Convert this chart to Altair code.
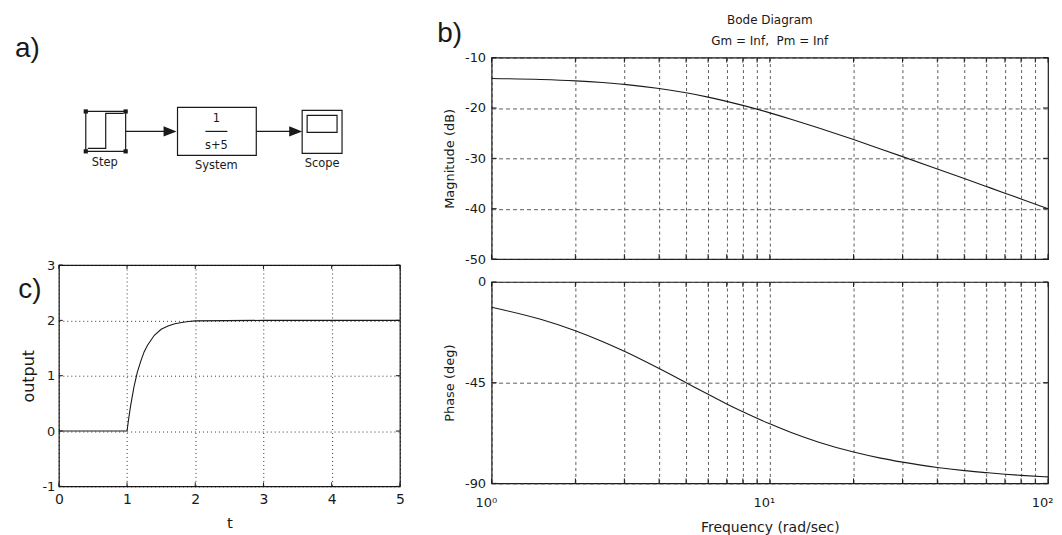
import altair as alt
import pandas as pd

# ---------------- data ----------------
# c) step response of 10/(s+5) started at t = 1
t_vals = [0.0, 1.0, 1.02, 1.05, 1.1, 1.15, 1.2, 1.25, 1.3, 1.4, 1.5, 1.6, 1.7, 1.8, 1.9, 2.0, 3.0, 4.0, 5.0]
out_vals = [0.0, 0.0, 0.19, 0.44, 0.79, 1.06, 1.26, 1.43, 1.55, 1.73, 1.84, 1.90, 1.94, 1.96, 1.98, 1.99, 2.0, 2.0, 2.0]

# b) Bode diagram
freq = [1, 1.5, 2, 2.5, 3, 4, 5, 6, 7, 8, 10, 12, 15, 20, 25, 30, 40, 50, 60, 70, 80, 100]
mag_db = [-14.15, -14.35, -14.62, -14.95, -15.31, -16.13, -16.99, -17.85, -18.69, -19.49, -20.97,
          -22.28, -23.98, -26.28, -28.13, -29.66, -32.11, -34.02, -35.59, -36.92, -38.08, -40.01]
phase_deg = [-11.3, -16.7, -21.8, -26.6, -31.0, -38.7, -45.0, -50.2, -54.5, -58.0, -63.4,
             -67.4, -71.6, -76.0, -78.7, -80.5, -82.9, -84.3, -85.2, -85.9, -86.4, -87.1]
grid_freqs = [1, 2, 3, 4, 5, 6, 7, 8, 9, 10, 20, 30, 40, 50, 60, 70, 80, 90, 100]
mag_ticks = [-50, -40, -30, -20, -10]
phase_ticks = [-90, -45, 0]
t_ticks = [0, 1, 2, 3, 4, 5]
out_ticks = [-1, 0, 1, 2, 3]
bode_title = ["Bode Diagram", "Gm = Inf,\u00a0 Pm = Inf"]

# a) block diagram (drawing coordinates of the Simulink sketch)
box_x1 = [87, 179, 304, 309]
box_x2 = [127, 258, 344, 339]
box_y1 = [111, 107, 110, 115]
box_y2 = [151, 155, 153, 132]
handle_x = [87, 127, 87, 127]
handle_y = [111, 111, 151, 151]
stepsym_x = [89, 107, 107, 125]
stepsym_y = [148, 148, 113, 113]
wire_x1 = [127, 258, 207]
wire_x2 = [167, 292, 229]
wire_y = [131, 131, 131]
head_x = [171.5, 297.5]
head_y = [131, 131]
block_text = ["1", "s+5", "Step", "System", "Scope"]
block_text_x = [218, 218, 106, 218, 324]
block_text_y = [119, 146, 163, 166, 164]
panel_labels = ["a)", "b)", "c)"]

FONT = "DejaVu Sans"
LBL_FONT = "Liberation Sans"
INK = "#1a1a1a"


def inner_ticks(values, field, enc, w, h, n=4, horizontal=True):
    """MATLAB-style short ticks drawn inside the frame on both sides (same field/axis as the data layer)."""
    base = alt.Chart(pd.DataFrame({field: values})).mark_rule(color=INK, strokeWidth=1)
    if horizontal:
        return [base.encode(x=enc, y=alt.value(h), y2=alt.value(h - n)),
                base.encode(x=enc, y=alt.value(0), y2=alt.value(n))]
    return [base.encode(y=enc, x=alt.value(0), x2=alt.value(n)),
            base.encode(y=enc, x=alt.value(w), x2=alt.value(w - n))]


# ---------------- a) block diagram ----------------
bx = alt.Scale(domain=[60, 402], nice=False, zero=False)
by = alt.Scale(domain=[200, 57], nice=False, zero=False)

boxes = alt.Chart(pd.DataFrame({"x1": box_x1, "x2": box_x2, "y1": box_y1, "y2": box_y2})).mark_rect(
    fill="white", stroke=INK, strokeWidth=1.2
).encode(
    x=alt.X("x1:Q", scale=bx, axis=None), x2="x2:Q",
    y=alt.Y("y1:Q", scale=by, axis=None), y2="y2:Q",
)
handles = alt.Chart(pd.DataFrame({"x": handle_x, "y": handle_y})).mark_square(
    size=18, filled=True, color=INK, opacity=1
).encode(x=alt.X("x:Q", scale=bx, axis=None), y=alt.Y("y:Q", scale=by, axis=None))
stepsym = alt.Chart(pd.DataFrame({"x": stepsym_x, "y": stepsym_y, "o": list(range(len(stepsym_x)))})).mark_line(
    color=INK, strokeWidth=1.2
).encode(x=alt.X("x:Q", scale=bx, axis=None), y=alt.Y("y:Q", scale=by, axis=None), order="o:Q")
wires = alt.Chart(pd.DataFrame({"x1": wire_x1, "x2": wire_x2, "y": wire_y})).mark_rule(
    color=INK, strokeWidth=1.2
).encode(x=alt.X("x1:Q", scale=bx, axis=None), x2="x2:Q", y=alt.Y("y:Q", scale=by, axis=None))
heads = alt.Chart(pd.DataFrame({"x": head_x, "y": head_y})).mark_point(
    shape="M-1,-0.8L1,0L-1,0.8Z", size=169, filled=True, color=INK, opacity=1
).encode(x=alt.X("x:Q", scale=bx, axis=None), y=alt.Y("y:Q", scale=by, axis=None))
btext = alt.Chart(pd.DataFrame({"label": block_text, "x": block_text_x, "y": block_text_y})).mark_text(
    font=FONT, fontSize=11.5, color=INK
).encode(x=alt.X("x:Q", scale=bx, axis=None), y=alt.Y("y:Q", scale=by, axis=None), text="label:N")
alabel = alt.Chart(pd.DataFrame({"label": [panel_labels[0]], "x": [28.5], "y": [48]})).mark_text(
    font=LBL_FONT, fontSize=28, color=INK
).encode(x=alt.X("x:Q", scale=bx, axis=None), y=alt.Y("y:Q", scale=by, axis=None), text="label:N")

block = alt.layer(boxes, stepsym, handles, wires, heads, btext, alabel).properties(
    width=342, height=143, view=alt.ViewBackground(stroke="transparent")
)

# ---------------- c) step response ----------------
step_x = alt.X("t:Q", scale=alt.Scale(domain=[0, 5], nice=False, zero=False),
               axis=alt.Axis(values=t_ticks, labelExpr="datum.value + ''", gridDash=[1, 3], gridColor="#000",
                             labelFontSize=14, labelPadding=6, title="t", titleFontSize=15, titlePadding=9))
step_y = alt.Y("output:Q", scale=alt.Scale(domain=[-1, 3], nice=False, zero=False),
               axis=alt.Axis(values=out_ticks, labelExpr="datum.value + ''", gridDash=[1, 3], gridColor="#000",
                             labelFontSize=13, labelPadding=4, title="output", titleFontSize=16, titlePadding=5))
step_df = pd.DataFrame({"t": t_vals, "output": out_vals})
step_line = alt.Chart(step_df).mark_line(color=INK, strokeWidth=1.1).encode(x=step_x, y=step_y)
clabel = alt.Chart(pd.DataFrame({"label": [panel_labels[2]]})).mark_text(
    font=LBL_FONT, fontSize=28, color=INK
).encode(text="label:N", x=alt.value(-29), y=alt.value(25))
step = alt.layer(
    step_line,
    *inner_ticks(t_ticks, "t", step_x, 342, 222, 4, True),
    *inner_ticks(out_ticks, "output", step_y, 342, 222, 4, False),
    clabel
).properties(width=342, height=222)

# ---------------- b) Bode magnitude / phase ----------------
bode_df = pd.DataFrame({"freq": freq, "mag": mag_db, "phase": phase_deg})
fscale = alt.Scale(type="log", domain=[1, 100], nice=False)

mag_x = alt.X("freq:Q", scale=fscale,
              axis=alt.Axis(values=grid_freqs, labels=False, title=None, gridDash=[3, 3]))
mag_y = alt.Y("mag:Q", scale=alt.Scale(domain=[-50, -10], nice=False, zero=False),
              axis=alt.Axis(values=mag_ticks, labelExpr="datum.value + ''", gridDash=[4, 3],
                            labelFontSize=13, labelPadding=6, title="Magnitude (dB)", titleFontSize=13,
                            titlePadding=8))
mag_line = alt.Chart(bode_df).mark_line(color=INK, strokeWidth=1.1, interpolate="monotone").encode(x=mag_x, y=mag_y)
blabel = alt.Chart(pd.DataFrame({"label": [panel_labels[1]]})).mark_text(
    font=LBL_FONT, fontSize=28, color=INK
).encode(text="label:N", x=alt.value(-42), y=alt.value(-24))
title1 = alt.Chart(pd.DataFrame({"label": [bode_title[0]]})).mark_text(
    font=FONT, fontSize=12, color=INK
).encode(text="label:N", x=alt.value(279), y=alt.value(-38))
title2 = alt.Chart(pd.DataFrame({"label": [bode_title[1]]})).mark_text(
    font=FONT, fontSize=12, color=INK
).encode(text="label:N", x=alt.value(279), y=alt.value(-17))
mag = alt.layer(
    mag_line,
    *inner_ticks(grid_freqs, "freq", mag_x, 558, 202, 5, True),
    *inner_ticks(mag_ticks, "mag", mag_y, 558, 202, 5, False),
    blabel, title1, title2
).properties(width=558, height=202)

ph_x = alt.X("freq:Q", scale=fscale,
             axis=alt.Axis(values=grid_freqs, gridDash=[3, 3],
                           labelExpr="datum.value == 1 ? '10\u2070' : datum.value == 10 ? '10\u00b9' : datum.value == 100 ? '10\u00b2' : ''",
                           labelAlign="right", labelOffset=5, labelFontSize=13, labelPadding=13,
                           title="Frequency (rad/sec)", titleFontSize=14, titlePadding=11))
ph_y = alt.Y("phase:Q", scale=alt.Scale(domain=[-90, 0], nice=False, zero=False),
             axis=alt.Axis(values=phase_ticks, labelExpr="datum.value + ''", gridDash=[4, 3],
                           labelFontSize=13, labelPadding=6, title="Phase (deg)", titleFontSize=13,
                           titlePadding=8))
phase_line = alt.Chart(bode_df).mark_line(color=INK, strokeWidth=1.1, interpolate="monotone").encode(x=ph_x, y=ph_y)
phase = alt.layer(
    phase_line,
    *inner_ticks(grid_freqs, "freq", ph_x, 558, 202, 5, True),
    *inner_ticks(phase_ticks, "phase", ph_y, 558, 202, 5, False),
).properties(width=558, height=202)

left = alt.vconcat(block, step, spacing=57)
right = alt.vconcat(mag, phase, spacing=8)

chart = alt.hconcat(left, right, spacing=30).properties(
    padding={"left": 6, "top": 4, "right": 0, "bottom": 0}
).configure(font=FONT).configure_view(
    stroke=INK, strokeWidth=1.2
).configure_axis(
    labelFont=FONT, titleFont=FONT, labelColor=INK, titleColor=INK, titleFontWeight="normal",
    domain=False, ticks=False, grid=True, gridColor="#333", gridWidth=0.8, gridOpacity=1,
    labelFlush=False, labelOverlap=False
)

chart.save("out.html", embed_options={"renderer": "svg", "actions": False})
